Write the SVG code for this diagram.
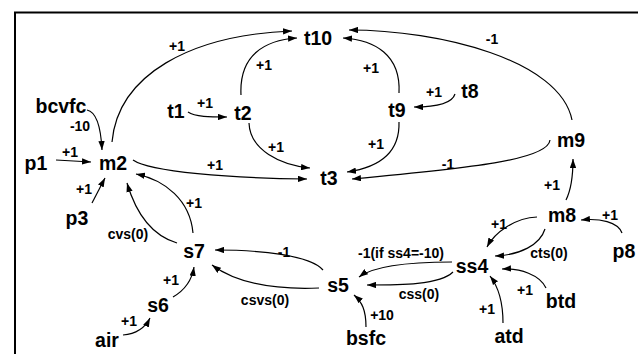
<svg xmlns="http://www.w3.org/2000/svg" width="639" height="354" viewBox="0 0 639 354">
<style>
.n{font-family:"Liberation Sans",Arial,sans-serif;font-weight:bold;font-size:19.5px;fill:#000;text-anchor:middle}
.l{font-family:"Liberation Sans",Arial,sans-serif;font-weight:bold;font-size:14px;fill:#000;text-anchor:middle}
.e{fill:none;stroke:#000;stroke-width:1.2;marker-end:url(#a)}
.f{fill:none;stroke:#000;stroke-width:2}
</style>
<defs>
<marker id="a" viewBox="0 0 10 7" refX="10" refY="3.5" markerWidth="9" markerHeight="6.5" markerUnits="userSpaceOnUse" orient="auto">
<path d="M0,0 L10,3.5 L0,7 Z" fill="#000"/>
</marker>
</defs>
<rect width="639" height="354" fill="#fff"/>
<path class="f" d="M15,354 V12.5 H638"/>
<g id="connectors">
<path class="e" d="M112,142 C118,75 190,35 292,31"/>
<path class="e" d="M241,95 C239,55 265,40 297,38"/>
<path class="e" d="M399,93 C401,55 375,40 343,38"/>
<path class="e" d="M572,120 C560,60 440,30 349,30"/>
<path class="e" d="M188,112 C195,117 210,117 227,117"/>
<path class="e" d="M455,94 C452,104 435,107 414,107"/>
<path class="e" d="M249,123 C250,150 280,165 310,168"/>
<path class="e" d="M399,122 C400,155 375,168 347,172"/>
<path class="e" d="M133,160 C150,172 230,178 307,179"/>
<path class="e" d="M550,140 C548,160 470,168 352,179"/>
<path class="e" d="M87,110 C97,112 101,130 102,150"/>
<path class="e" d="M56,160 L91,162"/>
<path class="e" d="M92,203 L105,178"/>
<path class="e" d="M177,243 C150,235 135,210 127,183"/>
<path class="e" d="M193,233 C190,200 165,180 136,174"/>
<path class="e" d="M173,297 C185,290 192,280 194,267"/>
<path class="e" d="M123,335 C135,334 145,328 150,318"/>
<path class="e" d="M323,270 C310,255 260,250 215,250"/>
<path class="e" d="M319,288 C270,290 235,282 212,265"/>
<path class="e" d="M452,262 C410,262 375,265 359,277"/>
<path class="e" d="M453,272 C440,285 400,285 367,285"/>
<path class="e" d="M537,217 C515,218 495,232 487,247"/>
<path class="e" d="M545,229 C540,245 520,255 495,256"/>
<path class="e" d="M566,200 C571,190 573,175 573,159"/>
<path class="e" d="M622,233 C618,222 600,218 581,220"/>
<path class="e" d="M546,288 C540,275 520,268 502,269"/>
<path class="e" d="M503,323 C503,300 497,285 490,276"/>
<path class="e" d="M366,327 C366,310 362,302 354,295"/>
</g>
<g id="labels">
<text class="l" x="177" y="51">+1</text>
<text class="l" x="264" y="70">+1</text>
<text class="l" x="371" y="73">+1</text>
<text class="l" x="205" y="108">+1</text>
<text class="l" x="276" y="152">+1</text>
<text class="l" x="376" y="149">+1</text>
<text class="l" x="434" y="97">+1</text>
<text class="l" x="492" y="44">-1</text>
<text class="l" x="448" y="169">-1</text>
<text class="l" x="215" y="170">+1</text>
<text class="l" x="70" y="157">+1</text>
<text class="l" x="80" y="131">-10</text>
<text class="l" x="84" y="194">+1</text>
<text class="l" x="194" y="208">+1</text>
<text class="l" x="128" y="239">cvs(0)</text>
<text class="l" x="171" y="285">+1</text>
<text class="l" x="129" y="326">+1</text>
<text class="l" x="284" y="257">-1</text>
<text class="l" x="265" y="305">csvs(0)</text>
<text class="l" x="382" y="320">+10</text>
<text class="l" x="401" y="258">-1(if ss4=-10)</text>
<text class="l" x="419" y="299">css(0)</text>
<text class="l" x="549" y="258">cts(0)</text>
<text class="l" x="499" y="229">+1</text>
<text class="l" x="552" y="190">+1</text>
<text class="l" x="610" y="220">+1</text>
<text class="l" x="525" y="295">+1</text>
<text class="l" x="487" y="314">+1</text>
</g>
<g id="t10"><text class="n" x="318" y="45">t10</text></g>
<g id="t1"><text class="n" x="176" y="118">t1</text></g>
<g id="t2"><text class="n" x="243" y="120">t2</text></g>
<g id="t9"><text class="n" x="397" y="117">t9</text></g>
<g id="t8"><text class="n" x="470" y="98">t8</text></g>
<g id="t3"><text class="n" x="329" y="185">t3</text></g>
<g id="bcvfc"><text class="n" x="61" y="113">bcvfc</text></g>
<g id="m2"><text class="n" x="113" y="170">m2</text></g>
<g id="p1"><text class="n" x="36" y="170">p1</text></g>
<g id="p3"><text class="n" x="77" y="225">p3</text></g>
<g id="m9"><text class="n" x="571" y="147">m9</text></g>
<g id="m8"><text class="n" x="562" y="222">m8</text></g>
<g id="p8"><text class="n" x="624" y="258">p8</text></g>
<g id="ss4"><text class="n" x="472" y="273">ss4</text></g>
<g id="btd"><text class="n" x="561" y="308">btd</text></g>
<g id="atd"><text class="n" x="509" y="343">atd</text></g>
<g id="s5"><text class="n" x="338" y="292">s5</text></g>
<g id="bsfc"><text class="n" x="366" y="345">bsfc</text></g>
<g id="s7"><text class="n" x="194" y="258">s7</text></g>
<g id="s6"><text class="n" x="158" y="312">s6</text></g>
<g id="air"><text class="n" x="107" y="347">air</text></g>
</svg>
